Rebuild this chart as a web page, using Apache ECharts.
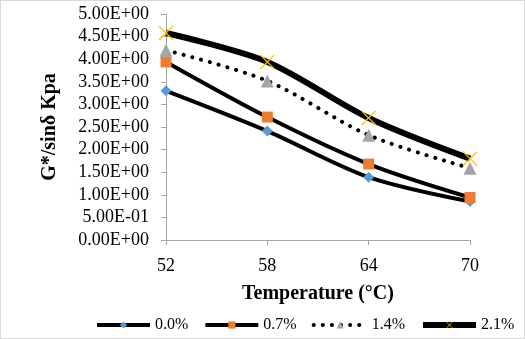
<!DOCTYPE html>
<html><head><meta charset="utf-8">
<script src="https://cdn.jsdelivr.net/npm/echarts@6/dist/echarts.min.js"></script>
<style>html,body{margin:0;padding:0;background:#fff}#c{width:523px;height:337px;border:1px solid #d9d9d9}</style>
</head><body><div id="c"></div>
<script>
const categories = ['52','58','64','70'];
const s00 = [3.30, 2.41, 1.39, 0.85];
const s07 = [3.94, 2.72, 1.68, 0.94];
const s14 = [4.20, 3.52, 2.32, 1.59];
const s21 = [4.58, 3.94, 2.70, 1.80];
const seriesNames = ['0.0%','0.7%','1.4%','2.1%'];

function fmtE(v){
  if (v === 0) return '0.00E+00';
  const s = v.toExponential(2);
  const [m, e] = s.split('e');
  const n = parseInt(e, 10);
  const sign = n < 0 ? '-' : '+';
  const a = Math.abs(n);
  return m + 'E' + sign + (a < 10 ? '0' + a : a);
}
const serif = '"Liberation Serif", "Times New Roman", serif';
const xPath = 'path://M0,0.6L0.6,0L5,4.4L9.4,0L10,0.6L5.6,5L10,9.4L9.4,10L5,5.6L0.6,10L0,9.4L4.4,5Z';

const chart = echarts.init(document.getElementById('c'));
chart.setOption({
  animation: false,
  grid: {left: 165, right: 54, top: 13, bottom: 98},
  legend: {
    left: 89, top: 311, itemWidth: 53, itemHeight: 9, itemGap: 15,
    lineStyle: {width: 'inherit'},
    textStyle: {fontFamily: serif, fontSize: 16, color: '#000'},
    data: seriesNames
  },
  xAxis: {
    type: 'category', data: categories, boundaryGap: false,
    axisLine: {lineStyle: {color: '#a6a6a6'}},
    axisTick: {show: true, length: 5, lineStyle: {color: '#a6a6a6'}},
    axisLabel: {fontFamily: serif, fontSize: 18, color: '#000', margin: 17},
    name: 'Temperature (°C)', nameLocation: 'middle', nameGap: 44,
    nameTextStyle: {fontFamily: serif, fontSize: 20, fontWeight: 'bold', color: '#000'}
  },
  yAxis: {
    type: 'value', min: 0, max: 5, interval: 0.5,
    axisLine: {show: true, lineStyle: {color: '#a6a6a6'}},
    axisTick: {show: true, length: 5, lineStyle: {color: '#a6a6a6'}},
    splitLine: {show: false},
    axisLabel: {fontFamily: serif, fontSize: 18, color: '#000', margin: 17, formatter: fmtE},
    name: 'G*/sinδ Kpa', nameLocation: 'middle', nameGap: 106,
    nameTextStyle: {fontFamily: serif, fontSize: 20, fontWeight: 'bold', color: '#000'}
  },
  series: [
    {name: seriesNames[0], type: 'line', data: s00, smooth: 0.3,
     symbol: 'diamond', symbolSize: 11,
     itemStyle: {color: '#5B9BD5'}, lineStyle: {color: '#000', width: 4}},
    {name: seriesNames[1], type: 'line', data: s07, smooth: 0.3,
     symbol: 'rect', symbolSize: 11,
     itemStyle: {color: '#ED7D31'}, lineStyle: {color: '#000', width: 4}},
    {name: seriesNames[2], type: 'line', data: s14, smooth: 0.3,
     symbol: 'triangle', symbolSize: 13,
     itemStyle: {color: '#A5A5A5'}, lineStyle: {color: '#000', width: 4, type: [0.1, 9], cap: 'round'}},
    {name: seriesNames[3], type: 'line', data: s21, smooth: 0.3,
     symbol: xPath, symbolSize: 15,
     itemStyle: {color: '#FFC000'}, lineStyle: {color: '#000', width: 6}}
  ]
});
</script></body></html>
